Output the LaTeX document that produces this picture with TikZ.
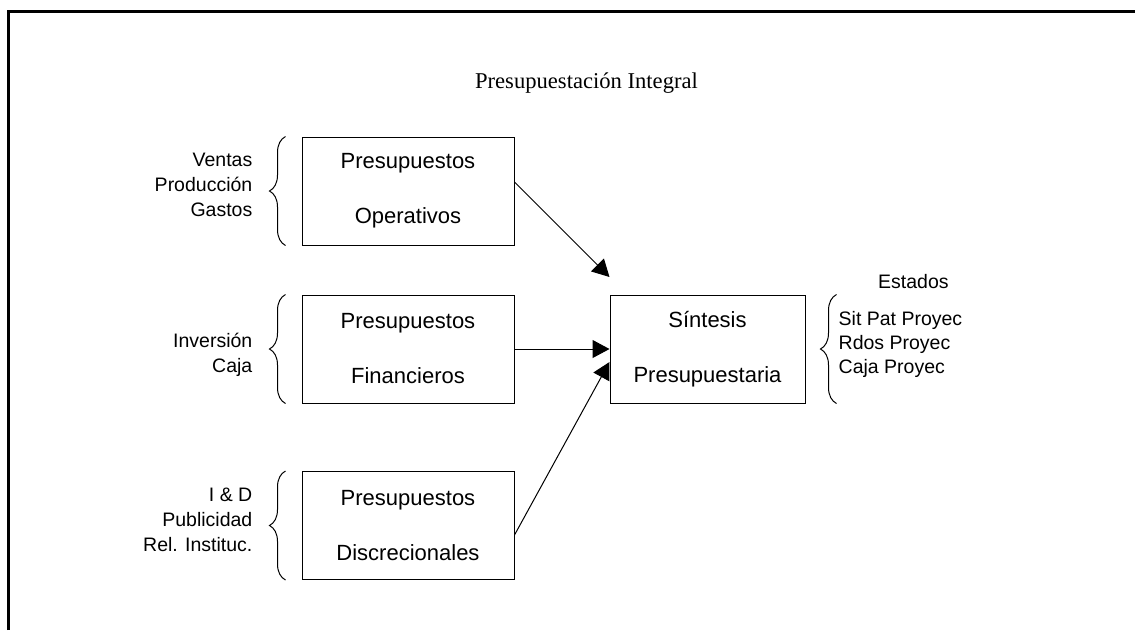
\documentclass[tikz,border=0pt]{standalone}
\usepackage{fontspec}
\setmainfont{Liberation Sans}
\newfontfamily\titlefont{Liberation Serif}
\usetikzlibrary{positioning, arrows.meta, decorations.pathreplacing}

\begin{document}
\begin{tikzpicture}[x=1pt, y=-1pt,
    % Styles
    budget/.style={draw, line width=1pt, minimum width=212pt, minimum height=108pt, align=center, inner sep=0pt, font=\fontsize{22}{55}\selectfont},
    synth/.style={budget, minimum width=195pt},
    items/.style={inner sep=0pt, font=\fontsize{19.5}{25}\selectfont},
    curly/.style={decorate, decoration={brace, amplitude=16pt}, line width=1pt},
    arrow/.style={-{Triangle[length=17pt, width=18pt]}, line width=1pt},
]
\useasboundingbox (0,0) rectangle (1135,630);

% Frame
\draw[line width=2.2pt] (8.5,630) -- (8.5,11.5) -- (1135,11.5);

% Title
\node[font=\titlefont\fontsize{22.6}{27}\selectfont, anchor=base] (title) at (586.5,88) {Presupuestación Integral};

% Budget boxes
\node[budget] (oper) at (408,191) {Presupuestos\\Operativos};
\node[budget] (fin) at (408,349) {Presupuestos\\Financieros};
\node[budget] (disc) at (408,525.5) {Presupuestos\\Discrecionales};

% Synthesis
\node[synth] (sint) at (707.5,349) {Síntesis\\Presupuestaria};

% Items on the left
\node[items, align=right, anchor=east, yshift=6pt] (operitems) at ([xshift=-49pt]oper.west) {Ventas\\Producción\\Gastos};
\draw[curly] ([xshift=-16pt]oper.south west) -- ([xshift=-16pt]oper.north west);

\node[items, align=right, anchor=east, yshift=-6pt] (finitems) at ([xshift=-49pt]fin.west) {Inversión\\Caja};
\draw[curly] ([xshift=-16pt]fin.south west) -- ([xshift=-16pt]fin.north west);

\node[items, align=right, anchor=east, yshift=6pt] (discitems) at ([xshift=-49pt]disc.west) {I \& D\\Publicidad\\Rel. Instituc.};
\draw[curly] ([xshift=-16pt]disc.south west) -- ([xshift=-16pt]disc.north west);

% Statements on the right
\node[items, anchor=base west] (estados) at (878,288) {Estados};
\node[items, align=left, anchor=west, yshift=5pt, font=\fontsize{19.5}{24}\selectfont] (states) at ([xshift=33pt]sint.east) {Sit Pat Proyec\\Rdos Proyec\\Caja Proyec};
\draw[curly] ([xshift=31pt]sint.south east) -- ([xshift=31pt]sint.north east);

% Arrows
\draw[arrow] ([yshift=9pt]oper.east) -- ([yshift=72pt]sint.west);
\draw[arrow] (fin.east) -- (sint.west);
\draw[arrow] ([yshift=-9.5pt]disc.east) -- ([yshift=-13pt]sint.west);

\end{tikzpicture}
\end{document}
